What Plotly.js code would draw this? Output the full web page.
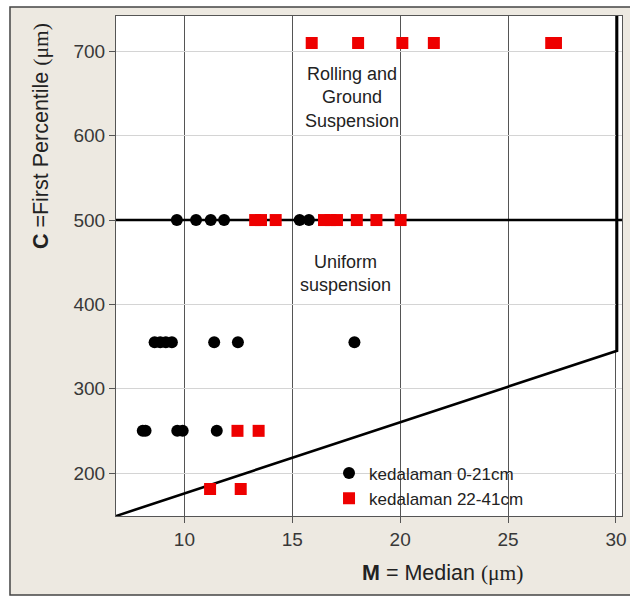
<!DOCTYPE html>
<html>
<head>
<meta charset="utf-8">
<script src="https://cdn.plot.ly/plotly-3.0.1.min.js"></script>
<style>html,body{margin:0;padding:0;background:#fff;}#chart{width:630px;height:597px;}</style>
</head>
<body>
<div id="chart"></div>
<script>
// ---- data ----
const seriesNames = ["kedalaman 0-21cm", "kedalaman 22-41cm"];
// kedalaman 0-21cm (black circles): Median M (µm), First percentile C (µm)
const shallowM = [9.65, 10.54, 11.22, 11.84, 15.34, 15.77,
                  8.62, 8.88, 9.14, 9.42, 11.38, 12.48, 17.88,
                  8.07, 8.2, 9.67, 9.92, 11.5];
const shallowC = [500, 500, 500, 500, 500, 500,
                  355, 355, 355, 355, 355, 355, 355,
                  250, 250, 250, 250, 250];
// kedalaman 22-41cm (red squares)
const deepM = [15.9, 18.05, 20.1, 21.56, 27.0, 27.22,
               13.28, 13.55, 14.23, 16.47, 16.77, 17.07, 17.99, 18.9, 20.02,
               12.46, 13.44,
               11.19, 12.61];
const deepC = [710, 710, 710, 710, 710, 710,
               500, 500, 500, 500, 500, 500, 500, 500, 500,
               250, 250,
               181, 181];
// Passega C-M diagram boundaries
const boundaryM = [6.83, 30.05, 30.05];
const boundaryC = [149, 345, 742];
const dividerM = [6.83, 30.28];
const dividerC = [500, 500];
const xTicks = [10, 15, 20, 25, 30];
const yTicks = [200, 300, 400, 500, 600, 700];
const regionLabels = ["Rolling and<br>Ground<br>Suspension", "Uniform<br>suspension"];
const regionM = [17.78, 17.48];
const regionC = [645, 437];

// ---- chart ----
const font = "Liberation Sans, Arial, sans-serif";
const traces = [
  {x: boundaryM, y: boundaryC, mode: "lines", line: {color: "#000", width: 2.6},
   showlegend: false, hoverinfo: "skip"},
  {x: dividerM, y: dividerC, mode: "lines", line: {color: "#000", width: 2.6},
   showlegend: false, hoverinfo: "skip"},
  {x: shallowM, y: shallowC, mode: "markers", name: seriesNames[0],
   marker: {symbol: "circle", size: 12, color: "#000"}},
  {x: deepM, y: deepC, mode: "markers", name: seriesNames[1],
   marker: {symbol: "square", size: 12, color: "#ee0000"}}
];

const ax = {
  showline: true, mirror: true, linecolor: "#555", linewidth: 1,
  ticks: "outside", ticklen: 6, tickcolor: "#555", tickwidth: 1,
  zeroline: false, showgrid: true, gridwidth: 1,
  tickfont: {family: font, size: 19, color: "#383838"}
};

const layout = {
  width: 630, height: 597,
  margin: {l: 116, r: 8, t: 16, b: 81, pad: 0},
  paper_bgcolor: "#ffffff", plot_bgcolor: "#ffffff",
  xaxis: Object.assign({}, ax, {range: [6.83, 30.28], tickvals: xTicks, gridcolor: "#555"}),
  yaxis: Object.assign({}, ax, {range: [149, 742], tickvals: yTicks, gridcolor: "#d4d4d4"}),
  showlegend: true,
  legend: {x: 0.421, y: 0.121, xanchor: "left", yanchor: "top", bgcolor: "rgba(0,0,0,0)",
           font: {family: font, size: 17, color: "#222"}, tracegroupgap: 0},
  shapes: [
    {type: "rect", xref: "paper", yref: "paper", x0: -0.2095, x1: 1.04, y0: -0.158, y1: 1.018,
     fillcolor: "#ede9e1", line: {color: "#444", width: 1.5}, layer: "below"},
    {type: "rect", xref: "paper", yref: "paper", x0: 0, x1: 1, y0: 0, y1: 1,
     fillcolor: "#ffffff", line: {width: 0}, layer: "below"}
  ],
  annotations: [
    {x: regionM[0], y: regionC[0], xref: "x", yref: "y", text: regionLabels[0], showarrow: false,
     font: {family: font, size: 18, color: "#222"}},
    {x: regionM[1], y: regionC[1], xref: "x", yref: "y", text: regionLabels[1], showarrow: false,
     font: {family: font, size: 18, color: "#222"}},
    {x: 0.646, y: -0.113, xref: "paper", yref: "paper", showarrow: false,
     xanchor: "center", yanchor: "middle",
     text: "<b>M</b> = Median <span style='font-family:Liberation Serif, Times New Roman, serif'>(μm)</span>",
     font: {family: font, size: 21.5, color: "#222"}},
    {x: -0.148, y: 0.76, xref: "paper", yref: "paper", showarrow: false, textangle: -90,
     xanchor: "center", yanchor: "middle",
     text: "<b>C</b> =First Percentile <span style='font-family:Liberation Serif, Times New Roman, serif'>(μm)</span>",
     font: {family: font, size: 21.5, color: "#222"}}
  ]
};

Plotly.newPlot("chart", traces, layout, {displayModeBar: false, staticPlot: true});
</script>
</body>
</html>
